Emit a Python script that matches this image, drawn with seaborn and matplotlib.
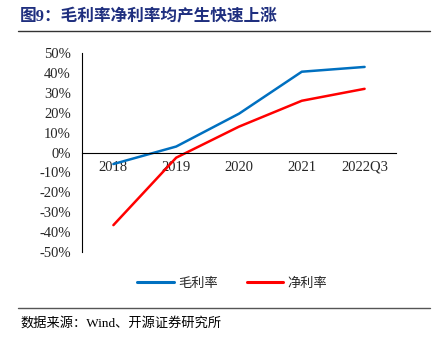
import matplotlib
matplotlib.use("Agg")
import matplotlib.pyplot as plt
import seaborn as sns
import pandas as pd
from matplotlib.lines import Line2D
from matplotlib.ticker import FuncFormatter, MultipleLocator

categories = ["2018", "2019", "2020", "2021", "2022Q3"]
gross_margin = [-5.8, 3.0, 19.5, 40.6, 43.0]
net_margin = [-36.5, -2.6, 13.0, 26.0, 32.0]
series_names = ["毛利率", "净利率"]
colors = ["#0070C0", "#FF0000"]

df = pd.DataFrame({
    "period": categories * 2,
    "value": gross_margin + net_margin,
    "series": [series_names[0]] * 5 + [series_names[1]] * 5,
})

sns.set_style("white")
cjk = ["Noto Sans CJK SC", "DejaVu Sans"]
serif = ["Liberation Serif", "DejaVu Serif"]
mixed = ["Liberation Serif", "Noto Sans CJK SC", "DejaVu Sans"]
plt.rcParams["font.family"] = serif

fig = plt.figure(figsize=(4.48, 3.4), dpi=100)
ax = fig.add_axes([82 / 448, 1 - 252 / 340, 314 / 448, 199 / 340])

sns.lineplot(data=df, x="period", y="value", hue="series", palette=colors,
             linewidth=1.8, ax=ax, legend=False, sort=False)

ax.set_xlim(-0.5, 4.5)
ax.set_ylim(-50, 50)
ax.yaxis.set_major_locator(MultipleLocator(10))
ax.yaxis.set_major_formatter(FuncFormatter(lambda v, p: f"{int(round(v))}%"))
ax.set_xlabel("")
ax.set_ylabel("")

for s in ["top", "right"]:
    ax.spines[s].set_visible(False)
ax.spines["bottom"].set_position(("data", 0))
for s in ["left", "bottom"]:
    ax.spines[s].set_color("black")
    ax.spines[s].set_linewidth(0.8)

ax.set_xticks(range(len(categories)))
ax.set_xticklabels(categories)
ax.set_xticks([i - 0.5 for i in range(len(categories) + 1)], minor=True)
ax.tick_params(axis="x", which="major", length=0, pad=6, labelsize=10.5)
ax.tick_params(axis="x", which="minor", direction="in", length=4, width=0.8)
ax.tick_params(axis="y", direction="in", length=4, width=0.8, labelsize=10.5, pad=8)
for lbl in ax.get_yticklabels() + ax.get_xticklabels():
    lbl.set_family(serif)

# title
fig.text(20 / 448, 1 - 17 / 340, "图9：毛利率净利率均产生快速上涨", family=mixed,
         fontsize=12, fontweight="bold", color="#1F2F7F", va="center", ha="left")
fig.add_artist(Line2D([18 / 448, 430 / 448], [1 - 31 / 340] * 2, color="#333333", lw=1))

# legend
handles = [Line2D([0], [0], color=c, lw=2.2) for c in colors]
leg = fig.legend(handles, series_names, loc="center", bbox_to_anchor=(232 / 448, 1 - 283 / 340),
                 ncol=2, frameon=False, handlelength=2.8, handletextpad=0.3, columnspacing=2.2,
                 prop={"family": cjk, "size": 9.5})

fig.add_artist(Line2D([18 / 448, 430 / 448], [1 - 308 / 340] * 2, color="#555555", lw=1))
fig.text(20 / 448, 1 - 323 / 340, "数据来源：Wind、开源证券研究所", family=mixed,
         fontsize=9.5, color="black", va="center", ha="left")

fig.savefig("out.png", dpi=100)
